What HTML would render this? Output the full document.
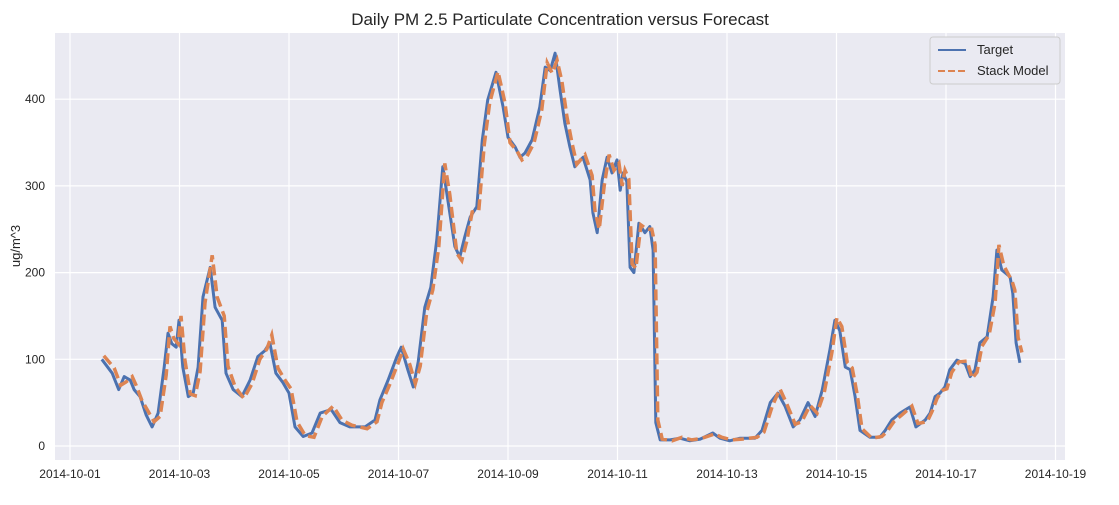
<!DOCTYPE html>
<html><head><meta charset="utf-8"><style>
body{margin:0;background:#fff;font-family:"Liberation Sans",sans-serif}
</style></head><body>
<svg id="c" width="1119" height="500" xmlns="http://www.w3.org/2000/svg"></svg>
<script>
const days=[0.58,0.77,0.89,0.99,1.10,1.17,1.28,1.39,1.50,1.61,1.72,1.79,1.86,1.94,1.99,2.06,2.16,2.25,2.34,2.43,2.56,2.65,2.78,2.85,2.98,3.14,3.29,3.43,3.56,3.65,3.76,3.89,4.00,4.11,4.26,4.42,4.57,4.77,4.93,5.11,5.39,5.57,5.66,5.81,5.97,6.05,6.17,6.27,6.36,6.48,6.59,6.70,6.81,6.90,7.03,7.12,7.21,7.31,7.43,7.53,7.63,7.78,7.91,8.00,8.13,8.22,8.31,8.44,8.58,8.68,8.77,8.86,8.95,9.04,9.13,9.22,9.37,9.50,9.55,9.63,9.72,9.81,9.90,9.99,10.05,10.10,10.17,10.23,10.30,10.39,10.50,10.59,10.65,10.70,10.78,10.96,11.14,11.32,11.51,11.74,11.87,12.05,12.24,12.51,12.64,12.79,12.93,13.06,13.21,13.33,13.48,13.61,13.74,13.88,13.97,14.06,14.16,14.25,14.34,14.43,14.61,14.79,14.89,15.01,15.16,15.34,15.45,15.62,15.71,15.80,15.89,15.98,16.07,16.20,16.35,16.44,16.53,16.62,16.75,16.86,16.93,17.02,17.17,17.22,17.28,17.35];
const target=[100,84,65,80,76,65,57,36,22,38,91,130,118,114,145,91,57,61,91,172,206,160,145,84,65,57,76,103,110,119,84,73,61,22,11,15,38,42,27,22,22,30,53,76,103,114,88,68,97,160,183,238,322,284,230,218,241,264,276,353,399,431,391,356,345,333,338,353,391,437,433,453,411,372,345,322,333,307,269,246,307,333,315,330,295,315,305,206,200,257,246,253,226,27,7,7,9,6,8,15,9,6,9,9,18,50,61,46,22,30,50,34,65,111,145,133,91,88,57,18,10,10,18,30,38,45,22,30,38,57,61,68,88,99,95,80,88,119,126,172,226,203,195,176,119,96];
const forecast=[104,90,70,74,80,70,52,40,28,34,82,138,124,118,150,100,60,58,86,165,220,172,150,92,68,55,72,100,112,128,90,76,66,28,12,10,34,46,30,24,20,28,50,72,98,112,94,72,92,155,180,230,326,290,222,214,236,270,272,348,396,432,395,350,340,330,334,350,388,442,430,445,420,380,350,325,336,312,272,250,300,336,318,326,300,318,308,210,205,255,250,250,232,30,8,6,10,7,9,14,10,7,8,10,16,46,66,48,25,28,47,38,62,108,148,138,96,90,60,20,9,11,17,28,36,46,26,28,40,55,64,66,85,97,98,78,85,115,128,165,232,208,190,180,125,108];
const yTicks=[0,100,200,300,400];
const xTickLabels=["2014-10-01","2014-10-03","2014-10-05","2014-10-07","2014-10-09","2014-10-11","2014-10-13","2014-10-15","2014-10-17","2014-10-19"];
const xTickDays=[0,2,4,6,8,10,12,14,16,18];

const NS="http://www.w3.org/2000/svg";
const svg=document.getElementById('c');
const L=55,R=1065,T=33,B=460;
const xs=d=>70+d*54.75;
const ys=v=>446-v*0.867;
function mk(t,a,p){const e=document.createElementNS(NS,t);for(const k in a)e.setAttribute(k,a[k]);(p||svg).appendChild(e);return e;}
let bg=mk('rect',{x:L,y:T,width:R-L,height:B-T,fill:'#eaeaf2'});


yTicks.forEach(v=>{
  let g=mk('line',{x1:L,x2:R,y1:ys(v),y2:ys(v),stroke:'#fff','stroke-width':1.2});
  
  
  let t=mk('text',{x:L-10,y:ys(v)+4,'text-anchor':'end','font-size':12,fill:'#262626'});
  t.textContent=v;
  
  
});
xTickDays.forEach((d,i)=>{
  let g=mk('line',{x1:xs(d),x2:xs(d),y1:T,y2:B,stroke:'#fff','stroke-width':1.2});
  
  
  let t=mk('text',{x:xs(d),y:B+18,'text-anchor':'middle','font-size':12,fill:'#262626'});
  t.textContent=xTickLabels[i];
  
  
});
function path(vals){return vals.map((v,i)=>(i?'L':'M')+xs(days[i]).toFixed(1)+','+ys(v).toFixed(1)).join('');}
let p1=mk('path',{d:path(target),fill:'none',stroke:'#4c72b0','stroke-width':3,'stroke-linejoin':'round'});


let p2=mk('path',{d:path(forecast),fill:'none',stroke:'#dd8452','stroke-width':3.5,'stroke-dasharray':'11,5',transform:'translate(2,0)'});


let ti=mk('text',{x:560,y:25,'text-anchor':'middle','font-size':17,fill:'#262626'});
ti.textContent='Daily PM 2.5 Particulate Concentration versus Forecast';


let yl=mk('text',{x:20,y:246,'text-anchor':'middle','font-size':13,fill:'#262626',transform:'rotate(-90 20 246)'});
yl.textContent='ug/m^3';


let lg=mk('g',{});


mk('rect',{x:930,y:37,width:130,height:47,rx:3,fill:'#eaeaf2',stroke:'#ccc','stroke-width':1},lg);
let l1=mk('line',{x1:938,x2:966,y1:50,y2:50,stroke:'#4c72b0','stroke-width':2},lg);


let t1=mk('text',{x:977,y:54,'font-size':13,fill:'#262626'},lg);t1.textContent='Target';


let l2=mk('line',{x1:938,x2:966,y1:71,y2:71,stroke:'#dd8452','stroke-width':2,'stroke-dasharray':'7,3'},lg);


let t2=mk('text',{x:977,y:75,'font-size':13,fill:'#262626'},lg);t2.textContent='Stack Model';


</script>
</body></html>
